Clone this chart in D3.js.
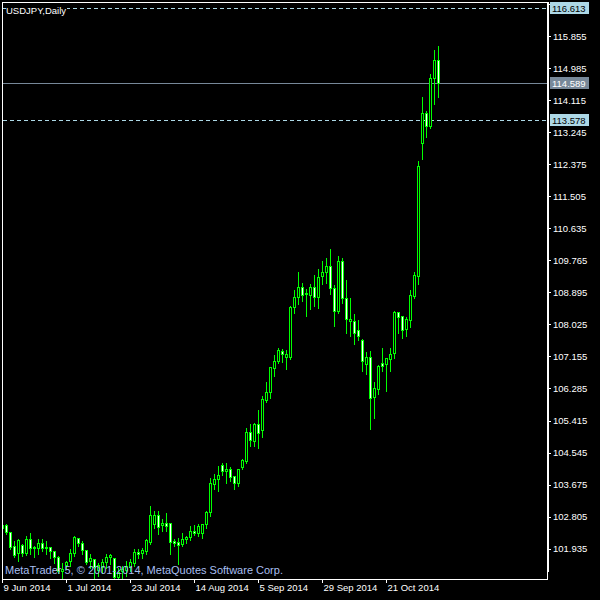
<!DOCTYPE html>
<html><head><meta charset="utf-8">
<script src="https://cdn.jsdelivr.net/npm/d3@7"></script>
<style>html,body{margin:0;padding:0;background:#000;}svg{display:block;}</style>
</head><body>
<script>
// ---- data ----
const symbolTitle = "USDJPY,Daily";
const watermark = "MetaTrader 5, \u00A9 2001-2014, MetaQuotes Software Corp.";
const openP  = [102.50,102.58,102.39,102.01,101.82,102.04,101.82,102.20,101.94,101.95,102.09,101.98,101.98,101.87,101.71,101.33,101.49,101.60,101.82,102.22,102.09,101.90,101.60,101.66,101.36,101.44,101.57,101.71,101.68,101.17,101.33,101.36,101.44,101.55,101.84,101.82,101.87,102.12,102.60,102.85,102.58,102.63,102.63,102.14,102.12,102.06,102.20,102.25,102.42,102.37,102.36,102.60,102.93,103.70,103.82,104.21,104.05,104.10,103.90,103.72,104.15,104.32,105.10,104.86,105.32,105.16,105.97,106.19,106.84,107.03,107.30,107.14,107.14,108.49,108.77,109.04,108.88,108.82,109.04,108.77,109.34,109.45,109.61,109.01,108.39,109.74,108.74,108.12,108.12,107.87,107.60,106.96,107.14,106.05,106.27,106.98,106.96,107.08,107.25,108.35,108.25,107.90,108.14,108.80,109.34,112.95,113.76,113.41,114.71,115.20];
const highP  = [102.63,102.63,102.42,102.17,102.22,102.09,102.31,102.39,102.04,102.22,102.22,102.17,102.01,101.90,101.76,101.57,101.63,101.95,102.31,102.25,102.17,101.93,101.82,101.68,101.57,101.68,101.82,101.82,101.71,101.44,101.49,101.63,101.68,101.95,101.95,101.98,102.22,103.12,102.99,102.99,102.77,102.93,102.66,102.22,102.25,102.39,102.31,102.58,102.61,102.63,102.63,102.99,103.88,103.99,104.21,104.29,104.29,104.18,103.94,104.13,104.40,105.24,105.35,105.37,105.73,106.11,106.49,106.89,107.22,107.41,107.38,107.36,108.55,108.99,109.48,109.18,109.01,109.15,109.39,109.56,109.77,109.85,110.10,109.12,109.91,109.85,109.26,108.77,108.33,108.17,107.66,107.30,107.33,106.49,106.95,107.41,107.14,107.41,108.41,108.38,108.27,108.25,108.99,109.48,112.49,114.23,113.85,114.85,115.50,115.61];
const lowP   = [102.45,102.36,101.95,101.74,101.63,101.76,101.79,101.82,101.74,101.82,101.90,101.82,101.71,101.57,101.30,101.17,101.41,101.49,101.76,102.04,101.82,101.55,101.44,101.09,101.22,101.30,101.44,101.55,101.14,101.09,101.17,101.22,101.36,101.49,101.71,101.71,101.82,102.09,102.52,102.36,102.44,102.44,101.82,102.04,101.55,102.04,102.12,102.20,102.34,102.31,102.25,102.52,102.85,103.58,103.53,103.96,103.75,103.80,103.58,103.66,104.13,104.29,104.75,104.75,104.70,104.99,105.94,106.05,106.65,107.01,107.03,106.84,107.11,108.36,108.61,108.69,108.28,108.47,108.55,108.50,109.15,109.18,108.88,108.01,108.36,108.63,107.82,107.74,107.52,107.63,106.79,106.71,105.21,105.51,106.16,106.79,106.24,106.79,107.14,107.82,107.68,107.74,107.98,108.77,109.15,112.54,113.14,113.38,114.04,114.23];
const closeP = [102.58,102.39,101.98,101.76,102.17,101.82,102.20,101.95,101.99,102.09,101.95,101.96,101.87,101.71,101.33,101.38,101.57,101.82,102.25,102.09,101.90,101.57,101.68,101.44,101.49,101.57,101.71,101.76,101.17,101.30,101.38,101.46,101.57,101.84,101.78,101.90,102.17,102.85,102.85,102.52,102.63,102.54,102.12,102.09,102.04,102.20,102.25,102.42,102.37,102.55,102.60,102.93,103.72,103.82,103.93,104.04,104.10,103.88,103.72,104.10,104.34,105.10,104.89,105.32,105.07,106.00,106.19,106.87,107.03,107.33,107.22,107.22,108.49,108.77,109.04,108.82,108.86,109.04,108.77,109.31,109.45,109.61,109.01,108.39,109.74,108.74,108.17,108.17,107.79,107.71,107.03,107.14,106.03,106.30,106.90,106.90,107.11,107.22,108.35,108.22,107.87,108.17,108.82,109.37,112.33,113.76,113.41,114.71,115.20,114.59];
const yTickValues = [116.725,115.855,114.985,114.115,113.245,112.375,111.505,110.635,109.765,108.895,108.025,107.155,106.285,105.415,104.545,103.675,102.805,101.935];
const xTickLabels = ["9 Jun 2014","1 Jul 2014","23 Jul 2014","14 Aug 2014","5 Sep 2014","29 Sep 2014","21 Oct 2014"];
const xTickDates  = ["2014-06-09","2014-07-01","2014-07-23","2014-08-14","2014-09-05","2014-09-29","2014-10-21"];
const dashedLevels = [116.613, 113.578];
const priceLevel = 114.589;

// ---- categories: trading days (weekdays) ----
const days = d3.timeDay.range(new Date(2014,5,9), new Date(2014,10,8))
  .filter(d => d.getDay() !== 0 && d.getDay() !== 6);
const fmt = d3.timeFormat("%Y-%m-%d");
const dayKeys = days.map(fmt);
const bars = dayKeys.map((k,i)=>({k, o:openP[i], h:highP[i], l:lowP[i], c:closeP[i]}));

const W=600, H=600;
const svg = d3.select("body").append("svg").attr("width",W).attr("height",H)
  .style("background","#000").attr("shape-rendering","crispEdges");
const font = "'Liberation Sans', Arial, sans-serif";

const x = d3.scaleBand().domain(dayKeys).range([0.5, 0.5 + 4*dayKeys.length]).padding(0);
const y = d3.scaleLinear().domain([115.855, 101.935]).range([36, 548.67]);
const py = v => Math.round(y(v)) + 0.5;

svg.append("defs").append("clipPath").attr("id","plot")
  .append("rect").attr("x",3).attr("y",3).attr("width",544).attr("height",576);

const plot = svg.append("g").attr("clip-path","url(#plot)");

// level lines
plot.selectAll("line.dash").data(dashedLevels).join("line")
  .attr("x1",3).attr("x2",547).attr("y1",d=>py(d)).attr("y2",d=>py(d))
  .attr("stroke","#add8e6").attr("stroke-dasharray","4,3");
plot.append("line").attr("x1",3).attr("x2",547).attr("y1",py(priceLevel)).attr("y2",py(priceLevel))
  .attr("stroke","#778899");

// candles
const cg = plot.append("g");
cg.selectAll("line.wick").data(bars).join("line")
  .attr("x1",d=>x(d.k)+2).attr("x2",d=>x(d.k)+2)
  .attr("y1",d=>py(d.h)).attr("y2",d=>py(d.l)+1)
  .attr("stroke","#00ff00");
cg.selectAll("rect.body").data(bars).join("rect")
  .attr("x",d=>x(d.k)+1).attr("width",2)
  .attr("y",d=>py(Math.max(d.o,d.c)))
  .attr("height",d=>Math.max(1, py(Math.min(d.o,d.c)) - py(Math.max(d.o,d.c))))
  .attr("fill",d=>d.c>=d.o ? "#000" : "#fff")
  .attr("stroke","#00ff00");

// watermark
svg.append("text").attr("x",5).attr("y",574).text(watermark)
  .attr("font-family",font).attr("font-size",11).attr("fill","#a8bff0");

// title
svg.append("rect").attr("x",6).attr("y",4).attr("width",61).attr("height",11).attr("fill","#000");
svg.append("text").attr("x",6).attr("y",13.5).text(symbolTitle)
  .attr("font-family",font).attr("font-size",9.5).attr("fill","#fff");

// frame
svg.append("path").attr("d","M2.5,2.5H547.5V579.5H2.5Z").attr("fill","none").attr("stroke","#fff");
svg.append("line").attr("x1",548.5).attr("x2",548.5).attr("y1",2).attr("y2",572).attr("stroke","#fff");

// y axis
const yAxis = d3.axisRight(y).tickValues(yTickValues).tickSize(3).tickPadding(2)
  .tickFormat(d3.format(".3f"));
const ya = svg.append("g").attr("transform","translate(548,0)").call(yAxis);
ya.select(".domain").remove();
ya.selectAll(".tick line").attr("stroke","#fff");
ya.selectAll(".tick text").attr("fill","#fff").attr("font-family",font).attr("font-size",9.5);

// price level labels
const tags = [
  {v:dashedLevels[0], bg:"#add8e6", fg:"#000"},
  {v:priceLevel, bg:"#778899", fg:"#fff"},
  {v:dashedLevels[1], bg:"#add8e6", fg:"#000"}];
const tg = svg.selectAll("g.tag").data(tags).join("g");
tg.append("rect").attr("x",550).attr("y",d=>Math.round(y(d.v))-6).attr("width",39).attr("height",12)
  .attr("fill",d=>d.bg);
tg.append("text").attr("x",552).attr("y",d=>Math.round(y(d.v))+3.5).text(d=>d3.format(".3f")(d.v))
  .attr("font-family",font).attr("font-size",9.5).attr("fill",d=>d.fg);

// x axis
const labelMap = new Map(xTickDates.map((d,i)=>[d,xTickLabels[i]]));
const xAxis = d3.axisBottom(x).tickValues(xTickDates).tickSize(4).tickFormat(d=>labelMap.get(d));
const xa = svg.append("g").attr("transform","translate(0,579)").call(xAxis);
xa.select(".domain").remove();
xa.selectAll(".tick line").attr("stroke","#fff");
xa.selectAll(".tick text").attr("fill","#fff").attr("font-family",font).attr("font-size",9.5)
  .attr("text-anchor","start").attr("x",1).attr("y",5).attr("dy","0.71em");
</script>
</body></html>
